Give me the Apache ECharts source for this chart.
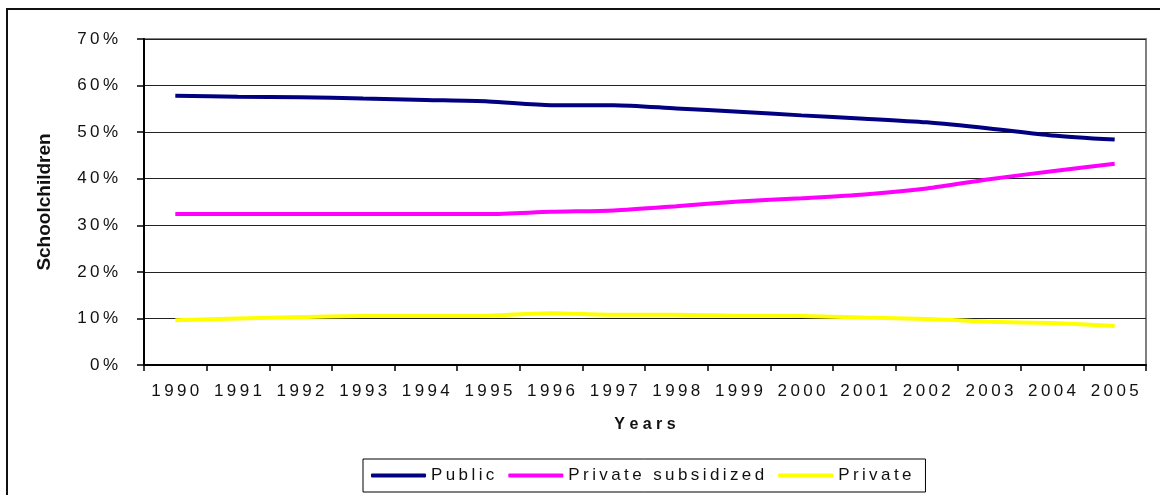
<!DOCTYPE html>
<html>
<head>
<meta charset="utf-8">
<script src="https://cdn.jsdelivr.net/npm/echarts@6/dist/echarts.min.js"></script>
<style>
  html, body { margin: 0; padding: 0; background: #fff; }
  #wrap { position: relative; width: 1160px; height: 495px; overflow: hidden; }
  #frame { position: absolute; left: 6px; top: 8px; right: -4px; bottom: -4px;
           border-top: 2px solid #111; border-left: 2px solid #111; pointer-events: none; }
  #chart { position: absolute; left: 0; top: 0; width: 1160px; height: 495px; }
</style>
</head>
<body>
<div id="wrap">
  <div id="chart"></div>
  <div id="frame"></div>
</div>
<script>
// years on the x axis
var years = ['1990', '1991', '1992', '1993', '1994', '1995', '1996', '1997',
             '1998', '1999', '2000', '2001', '2002', '2003', '2004', '2005']

// share of schoolchildren, percent
var publicShare = [57.8, 57.6, 57.5, 57.2, 56.9, 56.6, 55.8, 55.8,
                   55.1, 54.4, 53.6, 52.9, 52.1, 50.8, 49.3, 48.4]
var subsidizedShare = [32.4, 32.4, 32.4, 32.4, 32.4, 32.4, 32.9, 33.2,
                       34.1, 35.1, 35.8, 36.6, 37.9, 39.9, 41.6, 43.2]
var privateShare = [9.6, 10.0, 10.3, 10.5, 10.5, 10.6, 11.1, 10.8,
                    10.8, 10.6, 10.5, 10.2, 9.9, 9.3, 9.0, 8.4]

var yTicks = { min: 0, max: 70, interval: 10 }

var FONT = '"Liberation Sans", Arial, sans-serif'

// old Excel output has wide character spacing, mimic it with thin spaces
function spaced(s) {
    return String(s).split('').join('\u2009')
}

var myChart = echarts.init(document.getElementById('chart'), null, { renderer: 'canvas' })

function lineSeries(name, data, color) {
    return {
        name: name,
        type: 'line',
        data: data,
        symbol: 'none',
        smooth: 0.25,
        lineStyle: { color: color, width: 4 },
        itemStyle: { color: color }
    }
}

var option = {
    backgroundColor: '#fff',
    animation: false,
    grid: {
        left: 144,
        right: 14,
        top: 39,
        bottom: 130,
        show: true,
        borderColor: '#808080',
        borderWidth: 2
    },
    legend: {
        left: 363,
        top: 459,
        orient: 'horizontal',
        icon: 'roundRect',
        itemWidth: 55,
        itemHeight: 4,
        itemGap: 14,
        padding: [8, 14, 8, 8],
        borderColor: '#000',
        borderWidth: 1,
        formatter: function (name) { return spaced(name) },
        textStyle: { fontFamily: FONT, fontSize: 17, color: '#111' },
        data: ['Public', 'Private subsidized', 'Private']
    },
    xAxis: {
        type: 'category',
        data: years,
        boundaryGap: true,
        name: 'Y e a r s',
        nameLocation: 'middle',
        nameGap: 52,
        nameTextStyle: { fontFamily: FONT, fontSize: 16, fontWeight: 'bold', color: '#111' },
        axisLine: { lineStyle: { color: '#000', width: 2 } },
        axisTick: { show: true, length: 6, lineStyle: { color: '#000', width: 1.5 } },
        axisLabel: {
            interval: 0,
            margin: 18,
            fontFamily: FONT,
            fontSize: 17,
            color: '#111',
            formatter: function (v) { return spaced(v) }
        },
        splitLine: { show: false }
    },
    yAxis: {
        type: 'value',
        min: yTicks.min,
        max: yTicks.max,
        interval: yTicks.interval,
        name: 'Schoolchildren',
        nameLocation: 'middle',
        nameGap: 90,
        nameTextStyle: { fontFamily: FONT, fontSize: 19, fontWeight: 'bold', color: '#111' },
        axisLine: { show: true, lineStyle: { color: '#000', width: 2 } },
        axisTick: { show: true, length: 7, lineStyle: { color: '#000', width: 1.5 } },
        axisLabel: {
            margin: 26,
            fontFamily: FONT,
            fontSize: 17,
            color: '#111',
            formatter: function (v) { return spaced(v + '%') }
        },
        splitLine: { show: true, lineStyle: { color: '#222', width: 1 } }
    },
    series: [
        lineSeries('Public', publicShare, '#000080'),
        lineSeries('Private subsidized', subsidizedShare, '#ff00ff'),
        lineSeries('Private', privateShare, '#ffff00')
    ]
}

myChart.setOption(option)
</script>
</body>
</html>
